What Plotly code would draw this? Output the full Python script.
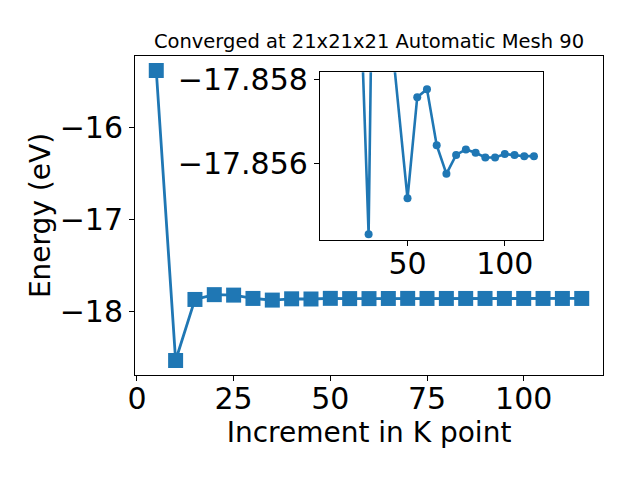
import plotly.graph_objects as go

# Main series
k_points = [5, 10, 15, 20, 25, 30, 35, 40, 45, 50, 55, 60, 65, 70, 75, 80, 85, 90, 95, 100, 105, 110, 115]
energy = [-15.385, -18.529, -17.867, -17.815, -17.82, -17.856, -17.874, -17.86, -17.862,
          -17.85517, -17.85757, -17.85776, -17.85643, -17.85575, -17.8562, -17.85633,
          -17.85625, -17.85614, -17.85614, -17.85622, -17.8562, -17.85617, -17.85617]

# Inset (zoomed) series
inset_k = [25, 30, 35, 40, 50, 55, 60, 65, 70, 75, 80, 85, 90, 95, 100, 105, 110, 115]
inset_energy = [-17.861, -17.85432, -17.8715, -17.8598, -17.85517, -17.85757, -17.85776,
                -17.85643, -17.85575, -17.8562, -17.85633, -17.85625, -17.85614, -17.85614,
                -17.85622, -17.8562, -17.85617, -17.85617]

main_xticks = [0, 25, 50, 75, 100]
main_yticks = [-16, -17, -18]
inset_xticks = [50, 100]
inset_yticks = [-17.858, -17.856]

title_text = "Converged at 21x21x21 Automatic Mesh 90"
xlabel = "Increment in K point"
ylabel = "Energy (eV)"

blue = "#1f77b4"
FONT = "DejaVu Sans"

fig = go.Figure()
fig.add_trace(go.Scatter(
    x=k_points, y=energy, mode="lines+markers",
    line=dict(color=blue, width=2.8),
    marker=dict(symbol="square", size=15, color=blue),
    xaxis="x", yaxis="y", showlegend=False, hoverinfo="skip"))
fig.add_trace(go.Scatter(
    x=inset_k, y=inset_energy, mode="lines+markers",
    line=dict(color=blue, width=2.6),
    marker=dict(symbol="circle", size=8, color=blue),
    xaxis="x2", yaxis="y2", showlegend=False, hoverinfo="skip"))

axis_common = dict(showline=True, linecolor="black", linewidth=1, mirror=True,
                   ticks="outside", ticklen=5, tickwidth=1, tickcolor="black",
                   showgrid=False, zeroline=False, automargin=False,
                   tickfont=dict(family=FONT, size=30, color="black"))

fig.update_layout(
    width=640, height=480,
    margin=dict(l=127, r=45, t=48, b=113, autoexpand=False),
    paper_bgcolor="white", plot_bgcolor="white",
    font=dict(family=FONT, color="black"),
    title=dict(text=title_text, x=0.5, xref="paper", xanchor="center",
               y=1 - 33 / 480, yanchor="middle", yref="container",
               font=dict(family=FONT, size=19.5, color="black")),
    xaxis=dict(domain=[0, 1], range=[-0.5, 120.5], tickvals=main_xticks,
               ticklabelstandoff=-8,
               title=dict(text=xlabel, font=dict(family=FONT, size=28), standoff=4),
               **axis_common),
    yaxis=dict(domain=[0, 1], range=[-18.686, -15.228], tickvals=main_yticks,
               title=dict(text=ylabel, font=dict(family=FONT, size=28), standoff=0),
               **axis_common),
    xaxis2=dict(domain=[0.395, 0.872], range=[4.94, 119.7], tickvals=inset_xticks,
                ticklabelstandoff=-8, anchor="y2", **axis_common),
    yaxis2=dict(domain=[0.423, 0.949], range=[-17.85418, -17.85816], tickvals=inset_yticks,
                tickformat=".3f", anchor="x2", **axis_common),
    hovermode=False,
)

fig.write_html("out.html")
